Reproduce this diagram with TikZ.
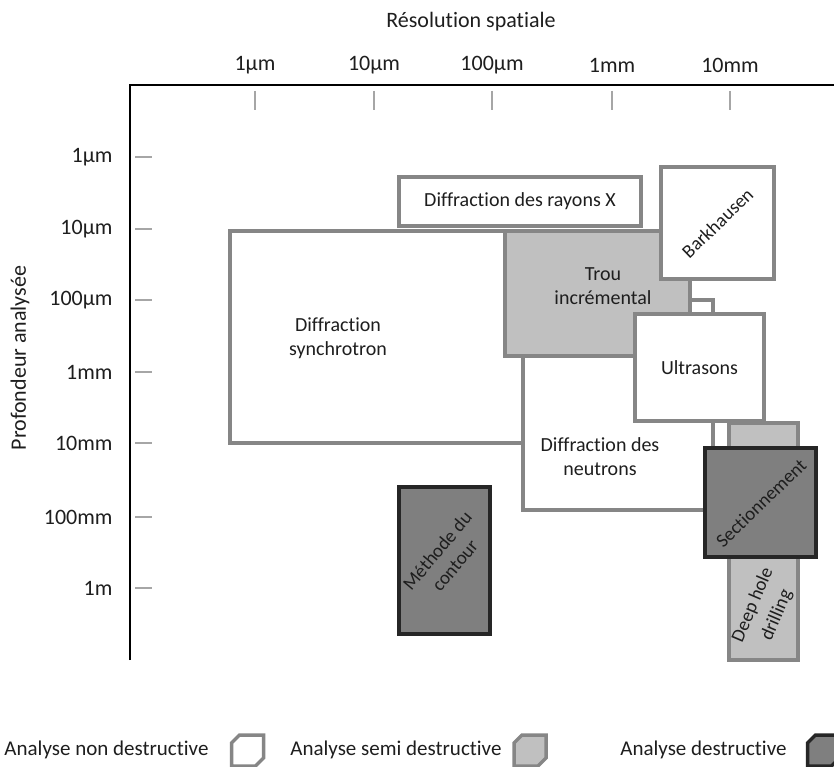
\documentclass[tikz,border=0pt]{standalone}
\usepackage{fontspec}
\setmainfont{Carlito}[Ligatures=NoCommon]

\definecolor{boxgray}{HTML}{868686}
\definecolor{lightfill}{HTML}{C0C0C0}
\definecolor{darkfill}{HTML}{7F7F7F}
\definecolor{darkline}{HTML}{262626}
\definecolor{tickgray}{HTML}{A6A6A6}
\definecolor{txt}{HTML}{1E1E1E}

\tikzset{
  method/.style={rectangle, align=center, inner sep=0pt, text=txt,
    font=\fontsize{20}{24}\selectfont},
  nondestr/.style={method, draw=boxgray, line width=4pt, fill=white},
  semidestr/.style={method, draw=boxgray, line width=4pt, fill=lightfill},
  destr/.style={method, draw=darkline, line width=4.5pt, fill=darkfill},
  lab/.style={align=center, text=txt, font=\fontsize{20}{24}\selectfont},
  tiltlab/.style={align=center, text=txt, font=\fontsize{19}{23}\selectfont},
  ticklab/.style={text=txt, font=\fontsize{22}{26}\selectfont},
  axislab/.style={text=txt, font=\fontsize{22}{26}\selectfont},
  leglab/.style={anchor=east, text=txt, font=\fontsize{21}{25}\selectfont}
}

\begin{document}
\begin{tikzpicture}[x=1pt, y=-1pt]
\useasboundingbox[fill=white] (0,0) rectangle (834,767);

% axes
\coordinate (corner) at (130,85);
\coordinate (xend) at (834,85);
\coordinate (yend) at (130,660);
\draw[line width=2.5pt, line join=miter] (yend) -- (corner) -- (xend);

\node[axislab] (xtitle) at (471,22) {Résolution spatiale};
\node[axislab, rotate=90] (ytitle) at (20,358) {Profondeur analysée};

\foreach \x/\lab in {255/1µm, 374/10µm, 492/100µm, 612/1mm, 730/10mm} {
  \draw[tickgray, line width=2pt] (\x,91) -- (\x,110);
  \node[ticklab] (top\x) at (\x,65) {\lab};
}
\foreach \y/\lab in {157/1µm, 229/10µm, 300/100µm, 372/1mm, 443/10mm, 517/100mm, 588/1m} {
  \draw[tickgray, line width=2pt] (135,\y) -- (152,\y);
  \node[ticklab, anchor=east] (left\y) at (116,\y) {\lab};
}

% methods
\node[nondestr, minimum width=294, minimum height=212] (synchro) at (377,337) {};
\node[lab] (synchrotxt) at (338,338) {Diffraction\\synchrotron};
\node[nondestr, minimum width=242, minimum height=49] (rayx) at (520,201.5) {Diffraction des rayons X};
\node[nondestr, minimum width=190, minimum height=210] (neutrons) at (618,405) {};
\node[lab] (neutronstxt) at (600,457) {Diffraction des\\neutrons};
\node[semidestr, minimum width=185, minimum height=125] (trou) at (597.5,293.5) {};
\node[lab] (troutxt) at (603,286) {Trou\\incrémental};
\node[nondestr, minimum width=129, minimum height=107] (ultra) at (699.5,367.5) {Ultrasons};
\node[nondestr, minimum width=113, minimum height=112] (bark) at (717.5,223) {};
\node[tiltlab, rotate=44] (barktxt) at (bark.center) {Barkhausen};
\node[semidestr, minimum width=69, minimum height=237] (deep) at (763.5,541.5) {};
\node[tiltlab, rotate=67, font=\fontsize{19}{26}\selectfont] (deeptxt) at (765,610) {Deep hole\\drilling};
\node[destr, minimum width=111, minimum height=109] (section) at (760.5,502.5) {};
\node[tiltlab, rotate=44] (sectiontxt) at (761,503) {Sectionnement};
\node[destr, minimum width=91, minimum height=147] (contour) at (444.5,560.5) {};
\node[tiltlab, rotate=50] (contourtxt) at (446,558) {Méthode du\\contour};

% legend
\node[leglab] (leg1) at (212,750) {Analyse non destructive};
\node[leglab] (leg2) at (505,750) {Analyse semi destructive};
\node[leglab] (leg3) at (790,750) {Analyse destructive};
\foreach \x/\c/\f in {247.5/boxgray/white, 530/boxgray/lightfill, 823.5/darkline/darkfill} {
  \draw[draw=\c, fill=\f, line width=3.5pt]
    (\x-16,743) -- (\x-8,735) -- (\x+16,735) -- (\x+16,758) -- (\x+8,766) -- (\x-16,766) -- cycle;
}
\end{tikzpicture}
\end{document}
